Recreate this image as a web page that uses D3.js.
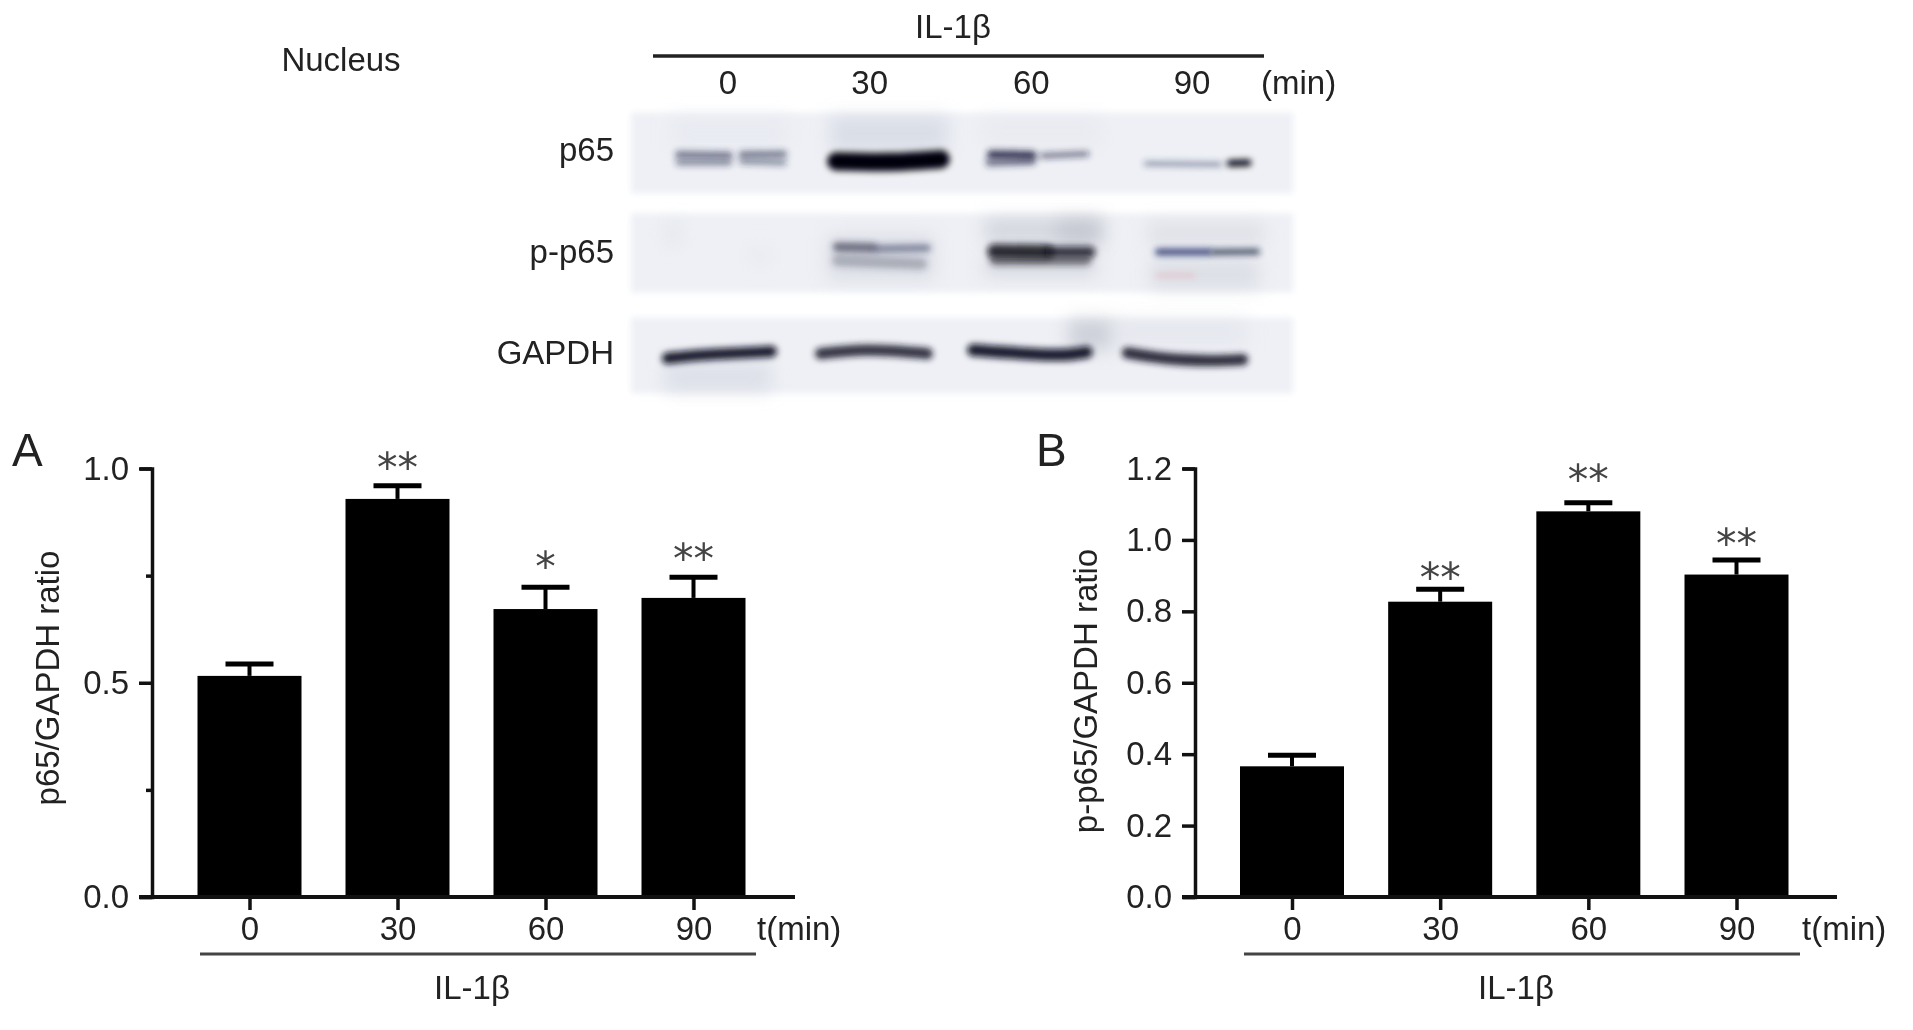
<!DOCTYPE html>
<html><head><meta charset="utf-8">
<style>
html,body{margin:0;padding:0;background:#fff}
svg{display:block;filter:blur(.55px)}
text{font-family:"Liberation Sans",Arial,sans-serif;fill:#222}
</style>
<script src="https://cdn.jsdelivr.net/npm/d3@7"></script></head><body>
<script>
const categories=["0","30","60","90"];
const ratioA=[0.516,0.929,0.672,0.698];
const errorA=[0.544,0.960,0.723,0.746];
const starsA=["","**","*","**"];
const starLevelA=[0,1.017,0.786,0.806];
const ticksA=[0,0.25,0.5,0.75,1];
const ratioB=[0.366,0.827,1.08,0.903];
const errorB=[0.397,0.862,1.104,0.944];
const starsB=["","**","**","**"];
const starLevelB=[0,0.913,1.186,1.009];
const ticksB=[0,0.2,0.4,0.6,0.8,1.0,1.2];
const blotRows=["p65","p-p65","GAPDH"];
const blotPanels=[[335,575],[635,870],[945,1170]];
// smudges: x0,x1,y0,y1,colour,opacity
const blotSmudges=[
 [625,835,345,450,"#c9cfdb",.55],[340,550,345,440,"#e3e6ee",.5],[895,1110,345,440,"#e2e4ec",.4],
 [900,1110,650,720,"#b9bcc8",.5],[1030,1110,650,730,"#a8aab6",.35],[620,810,700,830,"#c9cbd6",.5],
 [900,1100,760,820,"#bfc1cc",.5],[1190,1400,660,730,"#d2d3dc",.5],[1195,1390,770,860,"#cfd1da",.55],
 [330,520,1080,1165,"#d6d9e3",.7],[1050,1130,950,1040,"#b8bac6",.6],[1130,1370,950,1030,"#dfe1ea",.5],
 [330,360,660,730,"#e2e4ec",.7],[480,520,740,780,"#e4e6ee",.7]
];
// bands: thickness, opacity, colour, points [x,y]
const blotBands=[
 [16,.6,"#262a4a",[[355,460],[445,462]]],[14,.5,"#262a4a",[[355,483],[445,483]]],
 [15,.62,"#262a4a",[[468,460],[542,458]]],[13,.5,"#262a4a",[[468,480],[542,484]]],
 [42,1,"#02030a",[[636,480],[730,482],[822,474]]],
 [20,.85,"#1c2040",[[912,460],[985,462]]],[12,.6,"#1c2040",[[1003,464],[1082,458]]],[16,.6,"#262a4a",[[908,484],[985,480]]],
 [10,.55,"#26345a",[[1188,487],[1320,489]]],[15,1,"#05060f",[[1338,486],[1370,484]]],
 [22,.62,"#2a2c44",[[638,735],[700,737]]],[16,.55,"#2a2f55",[[708,740],[798,738]]],[26,.3,"#33354a",[[638,775],[788,785]]],
 [34,.85,"#0d0e1a",[[918,748],[1010,750]]],[26,.8,"#11121f",[[1018,750],[1088,750]]],[22,.55,"#1d1e2c",[[918,775],[1082,775]]],
 [15,.85,"#1e2a66",[[1210,750],[1300,750]]],[13,.8,"#1d2440",[[1308,750],[1386,749]]],
 [26,.94,"#101222",[[335,1066],[400,1056],[470,1050],[520,1046]]],
 [26,.88,"#14162a",[[608,1052],[690,1042],[798,1052]]],
 [28,.94,"#101222",[[880,1042],[970,1052],[1040,1056],[1082,1048]]],
 [26,.9,"#14162a",[[1155,1050],[1220,1066],[1300,1073],[1360,1070]]]
];
const blotStain=[[1205,1275,820,"#e8a0a8",.6]];

const svg=d3.select("body").append("svg").attr("width",1913).attr("height",1030);
const defs=svg.append("defs");
[["soft",3],["softer",9],["edge",3]].forEach(([id,s])=>defs.append("filter").attr("id",id)
 .attr("filterUnits","userSpaceOnUse").attr("x",0).attr("y",0).attr("width",1913).attr("height",1030)
 .append("feGaussianBlur").attr("stdDeviation",s));

/* ---------- Western blot ---------- */
const bx=d3.scaleLinear().domain([270,1450]).range([631,1293]);
const by=d3.scaleLinear().domain([0,1220]).range([0,410]);
const blot=svg.append("g");
blot.selectAll(".panel").data(blotPanels).join("rect").attr("class","panel")
 .attr("x",bx(270)).attr("width",bx(1450)-bx(270)).attr("y",d=>by(d[0])).attr("height",d=>by(d[1])-by(d[0]))
 .attr("fill","#eef0f5").attr("filter","url(#edge)");
blot.selectAll(".smudge").data(blotSmudges).join("rect").attr("class","smudge")
 .attr("x",d=>bx(d[0])).attr("width",d=>bx(d[1])-bx(d[0])).attr("y",d=>by(d[2])).attr("height",d=>by(d[3])-by(d[2]))
 .attr("fill",d=>d[4]).attr("opacity",d=>d[5]).attr("filter","url(#softer)");
const bandLine=d3.line().x(d=>bx(d[0])).y(d=>by(d[1])).curve(d3.curveCatmullRom);
blot.selectAll(".band").data(blotBands).join("path").attr("class","band")
 .attr("d",d=>bandLine(d[3])).attr("fill","none").attr("stroke",d=>d[2]).attr("stroke-opacity",d=>d[1])
 .attr("stroke-width",d=>by(d[0])*1.3).attr("stroke-linecap","round").attr("filter","url(#soft)");
blot.selectAll(".stain").data(blotStain).join("line").attr("class","stain")
 .attr("x1",d=>bx(d[0])).attr("x2",d=>bx(d[1])).attr("y1",d=>by(d[2])).attr("y2",d=>by(d[2]))
 .attr("stroke",d=>d[3]).attr("stroke-opacity",d=>d[4]).attr("stroke-width",3).attr("filter","url(#soft)");

const FS=33;
const label=(x,y,t,anchor="middle",size=FS)=>svg.append("text").attr("x",x).attr("y",y)
 .attr("text-anchor",anchor).attr("font-size",size).attr("dominant-baseline","central").text(t);
label(341,59,"Nucleus");
label(953,26,"IL-1β");
svg.append("line").attr("x1",653).attr("x2",1264).attr("y1",56).attr("y2",56).attr("stroke","#222").attr("stroke-width",3.5);
const blotHead=d3.scalePoint().domain(categories).range([728,1192]);
categories.forEach(c=>label(blotHead(c)+(c==="60"?-6:0)+(c==="30"?-13:0),82,c));
label(1261,82,"(min)","start");
[149,251,352].forEach((y,i)=>label(614,y,blotRows[i],"end"));

/* ---------- Bar panels ---------- */
function panel(o){
 const x=d3.scalePoint().domain(categories).range(o.xr);
 const y=d3.scaleLinear().domain([0,o.max]).range([897,468.5]);
 const g=svg.append("g");
 const bw=104;
 g.selectAll(".bar").data(o.vals).join("rect").attr("class","bar")
  .attr("x",(d,i)=>x(categories[i])-bw/2).attr("width",bw).attr("y",d=>y(d)).attr("height",d=>y(0)-y(d)).attr("fill","#000");
 g.selectAll(".stem").data(o.errs).join("line").attr("class","stem")
  .attr("x1",(d,i)=>x(categories[i])).attr("x2",(d,i)=>x(categories[i])).attr("y1",d=>y(d)).attr("y2",(d,i)=>y(o.vals[i]))
  .attr("stroke","#000").attr("stroke-width",4);
 g.selectAll(".cap").data(o.errs).join("line").attr("class","cap")
  .attr("x1",(d,i)=>x(categories[i])-24).attr("x2",(d,i)=>x(categories[i])+24).attr("y1",d=>y(d)).attr("y2",d=>y(d))
  .attr("stroke","#000").attr("stroke-width",5);
 g.selectAll(".star").data(o.stars).join("text").attr("class","star")
  .attr("x",(d,i)=>x(categories[i])).attr("y",(d,i)=>y(o.levels[i])+21).attr("text-anchor","middle")
  .attr("font-size",41).style("font-family","'DejaVu Sans'").style("fill","#444").text(d=>d);
 // axes
 const ya=g.append("g").attr("transform",`translate(${o.ax},0)`)
  .call(d3.axisLeft(y).tickValues(o.ticks).tickFormat(d=>o.labeled(d)?d3.format(".1f")(d):"").tickSize(12).tickPadding(11));
 ya.select(".domain").attr("stroke","#111").attr("stroke-width",3.5);
 ya.selectAll(".tick line").attr("stroke","#111").attr("stroke-width",3.5).attr("x2",d=>o.labeled(d)?-13:-6);
 ya.selectAll("text").attr("font-size",FS).style("font-family","'Liberation Sans'").style("fill","#222");
 const xa=g.append("g").attr("transform",`translate(0,${y(0)})`).call(d3.axisBottom(x).tickSize(13).tickPadding(7));
 xa.select(".domain").attr("d",`M${o.ax-13},0H${o.xEnd}`).attr("stroke","#111").attr("stroke-width",4);
 xa.selectAll(".tick line").attr("stroke","#111").attr("stroke-width",3.5);
 xa.selectAll("text").attr("font-size",FS).style("font-family","'Liberation Sans'").style("fill","#222");
 label(o.tx,928,"t(min)","start");
 svg.append("line").attr("x1",o.lx[0]).attr("x2",o.lx[1]).attr("y1",954).attr("y2",954).attr("stroke","#444").attr("stroke-width",3);
 label((o.lx[0]+o.lx[1])/2-6,987,"IL-1β");
 svg.append("text").attr("transform",`translate(${o.yl},${o.ylc}) rotate(-90)`).attr("text-anchor","middle")
  .attr("dominant-baseline","central").attr("font-size",FS).text(o.title);
 label(o.letterX,450,o.letter,"start",46);
}
panel({vals:ratioA,errs:errorA,stars:starsA,levels:starLevelA,ticks:ticksA,max:1,xr:[249.5,693.5],ax:152,xEnd:795,tx:757,lx:[200,756],
 labeled:d=>Math.abs(d*2-Math.round(d*2))<1e-6,yl:47,ylc:678,title:"p65/GAPDH ratio",letter:"A",letterX:12});
panel({vals:ratioB,errs:errorB,stars:starsB,levels:starLevelB,ticks:ticksB,max:1.2,xr:[1292,1736.5],ax:1195,xEnd:1837,tx:1802,lx:[1244,1800],
 labeled:()=>true,yl:1085,ylc:691,title:"p-p65/GAPDH ratio",letter:"B",letterX:1036});
</script></body></html>
